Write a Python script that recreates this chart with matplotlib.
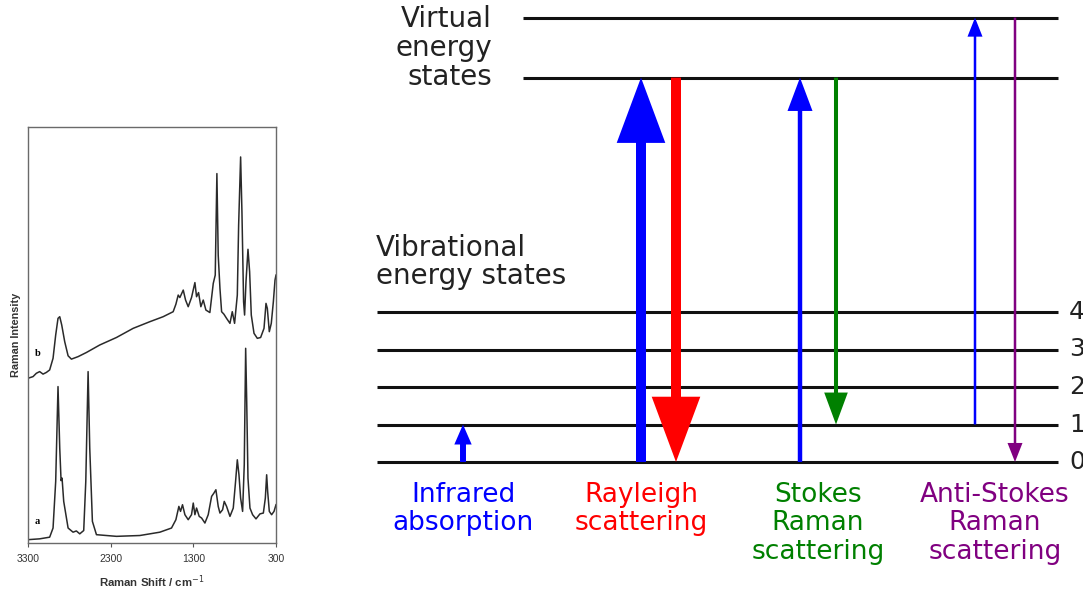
import matplotlib
matplotlib.use("Agg")
import matplotlib.pyplot as plt

# Raman spectra (shift in cm-1, intensity in % of frame height)
shift_a = [3300, 3159, 3038, 2997, 2965, 2937, 2916, 2900, 2888, 2868, 2815, 2755, 2715,
           2674, 2626, 2601, 2573, 2553, 2521, 2472, 2230, 1947, 1705, 1564, 1511, 1475,
           1455, 1431, 1402, 1362, 1322, 1301, 1281, 1261, 1229, 1200, 1160, 1120, 1079,
           1051, 1027, 999, 978, 946, 926, 898, 857, 817, 789, 768, 748, 728, 704, 684,
           667, 655, 639, 615, 583, 542, 494, 453, 429, 413, 401, 381, 353, 324, 300]
int_a = [0.8, 1.0, 1.4, 3.6, 14.8, 37.6, 22.8, 15.0, 15.6, 10.0, 3.6, 2.6, 2.9,
         2.2, 3.0, 14.8, 41.2, 22.8, 5.2, 2.0, 1.6, 1.8, 2.6, 3.6, 5.6, 8.8,
         7.6, 9.2, 6.8, 5.6, 6.8, 9.6, 6.8, 8.4, 6.4, 6.0, 4.8, 6.8, 11.2,
         12.0, 12.8, 8.8, 7.2, 8.0, 10.0, 8.8, 6.4, 8.4, 14.8, 20.0, 16.4, 10.8, 7.6, 18.8,
         46.8, 34.8, 15.6, 8.4, 6.8, 5.8, 7.0, 7.2, 10.8, 16.4, 12.4, 7.6, 6.8, 7.6, 9.2]

shift_b = [3300, 3239, 3199, 3159, 3118, 3078, 3038, 2997, 2965, 2937, 2916, 2892, 2856,
           2815, 2775, 2694, 2593, 2432, 2230, 2028, 1826, 1665, 1544, 1511, 1483, 1463,
           1422, 1394, 1362, 1322, 1281, 1261, 1237, 1209, 1180, 1148, 1100, 1059, 1035,
           1015, 999, 978, 958, 930, 898, 857, 829, 801, 768, 752, 728, 712, 692, 680,
           663, 639, 619, 599, 566, 526, 486, 445, 421, 405, 381, 357, 332, 312, 300]
int_b = [39.6, 40.0, 40.8, 41.2, 40.6, 41.0, 41.6, 44.4, 50.0, 54.0, 54.4, 52.4, 48.4,
         45.0, 44.2, 44.8, 45.8, 47.6, 49.4, 51.6, 53.2, 54.4, 55.6, 57.4, 59.6, 59.0,
         60.8, 58.4, 56.8, 59.0, 62.6, 59.2, 60.2, 56.8, 58.4, 56.0, 55.4, 62.4, 64.4,
         88.8, 69.2, 61.2, 55.6, 55.0, 54.0, 52.8, 55.6, 52.8, 59.6, 76.4, 92.8, 79.6, 58.0, 54.8,
         62.8, 70.6, 65.2, 54.8, 50.4, 49.2, 49.4, 51.6, 57.6, 56.4, 50.8, 52.8, 58.0, 63.2, 64.4]

spec_ticks = [3300, 2300, 1300, 300]

# Energy level diagram (energies in units of one vibrational quantum)
vib_levels = [0, 1, 2, 3, 4]
virtual_levels = [10.25, 11.85]

process_labels = ["Infrared\nabsorption", "Rayleigh\nscattering",
                  "Stokes\nRaman\nscattering", "Anti-Stokes\nRaman\nscattering"]
process_colors = ["blue", "red", "green", "purple"]

# transitions: start level, end level
trans_from = [0, 0, 10.25, 0, 10.25, 1, 11.85]
trans_to = [1, 10.25, 0, 10.25, 1, 11.85, 0]
trans_colors = ["blue", "blue", "red", "blue", "green", "blue", "purple"]

# layout (pixels of the 1083x591 canvas) and arrow sizes (points)
W, H = 1083, 591
trans_x = [463, 641, 676, 800, 836, 975, 1015]
tail_w = [4.3, 7.2, 7.2, 3.2, 2.9, 1.8, 1.8]
head_w = [12.5, 35, 35, 18, 17, 10.8, 10.8]
head_l = [14.4, 47, 47, 24, 23, 13.7, 13.7]
label_x = [463, 641, 818, 995]

fig = plt.figure(figsize=(W / 100, H / 100), dpi=100)

# ---- energy diagram: x in canvas pixels, y in energy units
ax = fig.add_axes([0, 0, 1, 1])
px = 37.5  # pixels per vibrational quantum
ax.set_xlim(0, W)
ax.set_ylim(-(H - 462) / px, 462 / px)
ax.axis("off")

ax.hlines(vib_levels, 377, 1058, color="#111111", lw=2.2)
ax.hlines(virtual_levels, 523, 1058, color="#111111", lw=2.2)
for lv in vib_levels:
    ax.text(1069, lv, str(lv), fontsize=18, va="center", ha="left", color="#222222")

for x, y0, y1, c, tw, hw, hl in zip(trans_x, trans_from, trans_to, trans_colors,
                                     tail_w, head_w, head_l):
    ax.annotate("", xy=(x, y1), xytext=(x, y0),
                arrowprops=dict(arrowstyle=f"simple,head_length={hl},head_width={hw},tail_width={tw}",
                                mutation_scale=1, color=c, lw=0, shrinkA=0, shrinkB=0))

fig.text(492 / W, 1 - 48 / H, "Virtual\nenergy\nstates", fontsize=20, ha="right",
         va="center", linespacing=1.06, color="#222222")
fig.text(376 / W, 1 - 262 / H, "Vibrational\nenergy states", fontsize=20, ha="left",
         va="center", linespacing=1.0, color="#222222")
for lab, c, x in zip(process_labels, process_colors, label_x):
    fig.text(x / W, 1 - 482 / H, lab, fontsize=19, ha="center", va="top",
             linespacing=1.12, color=c)

# ---- Raman spectrum inset
ins = fig.add_axes([28 / W, 1 - 543 / H, 248 / W, 416 / H])
ins.plot(shift_a, int_a, color="#2a2a2a", lw=1.1)
ins.plot(shift_b, int_b, color="#2a2a2a", lw=1.1)
ins.set_xlim(3300, 300)
ins.set_ylim(0, 100)
ins.set_xticks(spec_ticks)
ins.set_xticklabels([str(t) for t in spec_ticks], fontfamily="Liberation Sans", fontsize=7.5,
                    color="#333333")
ins.set_yticks([])
ins.tick_params(axis="x", length=3, width=0.8, colors="#555555", labelcolor="#333333", pad=5)
for s in ins.spines.values():
    s.set_color("#6a6a6a")
    s.set_linewidth(1.0)
ins.set_xlabel("Raman Shift / cm$^{-1}$", fontfamily="Liberation Sans", fontweight="bold",
               fontsize=8.2, color="#333333", labelpad=7)
ins.set_ylabel("Raman Intensity", fontfamily="Liberation Sans", fontweight="bold",
               fontsize=7.8, color="#333333", labelpad=5)
ins.text(3215, 4.5, "a", fontfamily="Liberation Serif", fontweight="bold", fontsize=7.5)
ins.text(3215, 45, "b", fontfamily="Liberation Serif", fontweight="bold", fontsize=7.5)

fig.savefig("out.png", dpi=100)
